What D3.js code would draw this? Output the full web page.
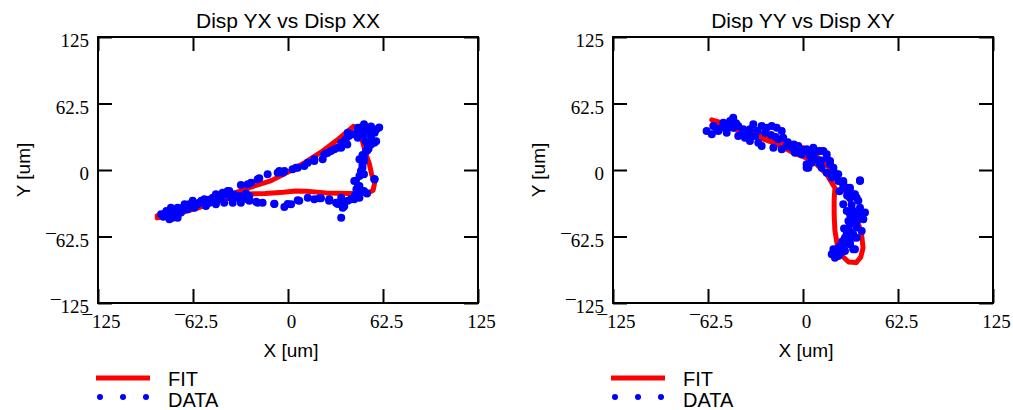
<!DOCTYPE html>
<html>
<head>
<meta charset="utf-8">
<script src="https://cdn.jsdelivr.net/npm/d3@7"></script>
<style>
  body { margin: 0; background: #fff; }
  svg { display: block; }
</style>
</head>
<body>
<div id="chart"></div>
<script>
// tick values shared by both panels
var tickVals = [-125, -62.5, 0, 62.5, 125]

// Disp YX vs Disp XX
var fitYX = [[-86,-43],[-75,-39],[-62,-34],[-50,-29],[-40,-24],[-31,-19.5],[-22,-15],[-11,-10],[0,-2],[11,7],
  [22,17],[33,29],[39,36],[43,41],[46,38],[49,27],[51,16],[53.5,6],[55,-4],[57,-12],[56,-19],[52,-22],[40,-22],
  [25,-21.5],[12,-20],[5,-19.8],[-3,-21],[-15,-22],[-28,-22.5],[-34,-24],[-45,-29],[-58,-35],[-70,-40],[-80,-44],
  [-86,-45],[-86,-43]]
var dataYX = [[-13.4,-4],[-5.7,-1],[-3.5,-2.5],[3,0.6],[6.4,2],[10.7,3.8],[13,6.9],[17.3,8.5],[22.8,10],[26,16],
  [30.5,19.5],[35,21],[39,24],[40,32],[37,27],[43.6,33.5],[48,40],[50,43],[54.6,41],[60,40],[57,35],[58,27],
  [54.6,24],[52,18],[50,11.6],[49,5],[48,-1],[47,-5.6],[44.7,-10],[46,-15],[48,-20],[57,-8.8],[47,-26],[41.4,-27.5],
  [35,-26],[32.7,-32],[37,-34],[27,-29],[20.6,-26.6],[13,-26],[6.4,-28.5],[-0.2,-32],[-2.4,-34.8],[-9,-31.7],
  [-16.7,-30.7],[-21,-29.8],[-25.5,-29],[-25.5,-24.4],[-27.6,-22],[35,-44.8],[-36.4,-30.7],[-33,-26],[-39.7,-19.7],
  [-43,-21.3],[-47.4,-22.9],[-31,-14],[-24.3,-11.9],[-18.9,-7.8],[-26.5,-13.5],
  [-83.5,-41.7],[-80,-38.5],[-78,-46.4],[-77,-35.4],[-74.8,-41.7],[-72.6,-35.4],[-70.4,-40],[-68,-32.3],[-66,-37],
  [-62.7,-29],[-61.6,-35.4],[-58.4,-30.7],[-55,-27.6],[-54,-33.8],[-49.5,-26],[-47.4,-32.3],[-44,-24.4],[-42,-30.7],
  [-38.6,-19.7],[-35.3,-23],[-32,-24.4],[-31,-30.7],[-37.5,-26],[-46.3,-27.6],[-51.8,-30.7],[-59.4,-32.3],[-65,-32.3],
  [-69.3,-35.4],[-73.7,-38.5],[-75.9,-44.8],[-79,-43.2],[-72.6,-44.8],[-20,-30.7],[-9,-32],[-20,-8.8],
  [32.7,21],[35,25.7],[38,28.9],[39.3,35],[42.5,33.5],[45.9,39.8],[45.9,30.4],[50,33.5],[54.6,30.4],[56.8,25.7],
  [52.4,24],[51.3,17.9],[50,8.5],[49,2.2],[43.6,-10.3],[47,-15],[50,-19.7],[43.6,-27.6],[39.3,-29],[36,-32.3],
  [36,-35.4],[31.6,-30.7],[27.2,-27.6],[21.7,-26.6],[17.3,-27.6],[7.4,-29],[2,-32.3],[56.8,-8.8],[23.9,14.7],
  [17.3,10],[5.3,2.2],[-2.4,-1],[-6.8,-2.5],[28.3,17.9],
  [52,37],[55,35],[58,38],[48,36],[51,27],[53,20],[49,14],[47,10],[50,-4],[45,-18],[52,-22],[44,-24],
  [-81,-41],[-76,-39],[-71,-37],[-67,-34],[-63,-33],[-57,-29],[-52,-28],[-40,-23],[-28,-27],[-77,-42],[-82,-44]]

// Disp YY vs Disp XY
var fitYY = [[-60,47],[-55,45],[-45,41],[-35,36.5],[-25,31],[-15,26],[-6,22.5],[0,21],[8,14],[15,6],[20,-3],
  [26,-15],[31,-29],[35,-44],[38.5,-60],[39.5,-73],[38,-82],[35,-87],[30,-86.5],[26,-81],[22.5,-70],[21,-57],
  [20.5,-42],[20.5,-28],[21,-17],[15.6,-4],[7,8],[1,12],[-6,16],[-14,22],[-22,27],[-32,32],[-42,37],[-52,41],
  [-58,44.5],[-60,47]]
var dataYY = [[-63.4,36.7],[-60,33.5],[-59,41.4],[-55.7,36.7],[-52.4,44.5],[-50.2,35],[-48,46],[-45.9,49],
  [-45.9,39.8],[-42.6,41.4],[-42.6,32],[-39.3,38.2],[-38.2,30.4],[-34.9,38.2],[-32.7,43],[-34.9,27.3],[-31.6,32],
  [-29.4,25.7],[-27.2,22.6],[-27.2,41.4],[-23.9,39.8],[-20.6,41.4],[-17.3,39.8],[-14,36.7],[-13,30.4],[-16.3,28.9],
  [-19.5,21],[-14,19.5],[-10.7,22.6],[-7.4,21],[-5.3,16.3],[-3.1,22.6],[-0.9,14.7],[2.4,17.9],[4.6,13.2],[3.5,2.2],
  [5.7,6.9],[3.5,3.8],[13.4,17.9],[15.6,11.6],[17.8,5.3],[20,-1],[22.2,-4],[23.2,-10.3],[26.5,-11.9],[28.8,-16.6],
  [30.9,-19.7],[33,-22.9],[37.5,-10.3],[35.3,-26],[37.5,-35.4],[36.4,-41.7],[39.7,-46.3],[33,-44.8],[30.9,-51],
  [35.3,-54],[28.8,-60.4],[33,-63.6],[30.9,-69.8],[26.5,-71.4],[22.2,-74.5],[18.9,-79.2],[24.3,-79.2],[33,-74.5],
  [28.8,-38.5],[26.5,-32.3],[9,17.9],[5.7,14.7],[2.4,2.2],[12.3,2.2],[15.6,-2.5],[35.3,-63.6],[38.6,-57.3],
  [2.4,19.5],[6.8,21],[11.2,17.9],[15.6,14.7],[17.8,8.5],[20,2.2],[23.2,-4],[26.5,-10.3],[37.5,-9.7],[30.9,-16.6],
  [34.2,-22.9],[36.4,-29],[40.8,-40],[33,-38.5],[29.9,-48],[35.3,-48],[28.8,-57.3],[33,-60.4],[27.6,-63.6],
  [30.9,-69.8],[24.3,-71.4],[20,-74.5],[23.2,-80.8],[27.6,-76.1],[34.2,-74.5],[21,-82.4],[6.8,14.7],[11.2,5.3],
  [2.4,5.3],[26.5,-16.6],[30.9,-26],
  [-57,39],[-53,40],[-49,41],[-44,44],[-40,35],[-36,33],[-30,37],[-25,35],[-21,33],[-18,31],[-10,26],[-6,24],
  [-1,19],[8,10],[12,9],[19,-7],[24,-20],[29,-24],[32,-33],[31,-42],[27,-55],[31,-58],[29,-66],[26,-67],[25,-75],[20,-78]]

var W = 1013, H = 410
var plotW = 380, plotH = 266, top0 = 37

var svg = d3.select("#chart").append("svg")
  .attr("width", W)
  .attr("height", H)

svg.append("rect").attr("width", W).attr("height", H).attr("fill", "#fff")

function fmt(d) {
  return d < 0 ? "\u00AF" + (-d) : "" + d
}

function drawPanel(left, title, fit, data) {
  var g = svg.append("g").attr("transform", "translate(" + left + "," + top0 + ")")

  var x = d3.scaleLinear().domain([-125, 125]).range([0, plotW])
  var y = d3.scaleLinear().domain([-125, 125]).range([plotH, 0])

  // axes, ticks point inward
  var axB = g.append("g").attr("transform", "translate(0," + plotH + ")")
    .call(d3.axisBottom(x).tickValues(tickVals).tickSize(-14).tickSizeOuter(0).tickPadding(12).tickFormat(fmt))
  var axL = g.append("g")
    .call(d3.axisLeft(y).tickValues(tickVals).tickSize(-14).tickSizeOuter(0).tickPadding(9).tickFormat(fmt))
  var axT = g.append("g")
    .call(d3.axisTop(x).tickValues(tickVals).tickSize(-14).tickSizeOuter(0).tickFormat(""))
  var axR = g.append("g").attr("transform", "translate(" + plotW + ",0)")
    .call(d3.axisRight(y).tickValues(tickVals).tickSize(-14).tickSizeOuter(0).tickFormat(""))

  ;[axB, axL, axT, axR].forEach(function(a) {
    a.select(".domain").remove()
    a.selectAll(".tick line").attr("stroke", "#000").attr("stroke-width", 2)
    a.selectAll("text").attr("font-family", "'Liberation Serif', 'Times New Roman', serif")
      .attr("font-size", 19).attr("fill", "#000")
  })
  axB.selectAll("text").attr("dx", 3).attr("dy", "0.66em")
  axL.selectAll("text").attr("dy", "0.52em")

  // frame
  g.append("rect")
    .attr("width", plotW).attr("height", plotH)
    .attr("fill", "none").attr("stroke", "#000").attr("stroke-width", 2)

  // FIT loop
  var line = d3.line()
    .x(function(d) { return x(d[0]) })
    .y(function(d) { return y(d[1]) })
  g.append("path")
    .datum(fit)
    .attr("d", line)
    .attr("fill", "none")
    .attr("stroke", "#ff0000")
    .attr("stroke-width", 5)
    .attr("stroke-linejoin", "round")
    .attr("stroke-linecap", "round")

  // DATA points
  g.selectAll(".pt")
    .data(data)
    .enter()
    .append("circle")
    .attr("cx", function(d) { return x(d[0]) })
    .attr("cy", function(d) { return y(d[1]) })
    .attr("r", 4)
    .attr("fill", "#0000ff")

  var sans = "'Liberation Sans', Arial, sans-serif"

  g.append("text")
    .attr("x", plotW / 2).attr("y", -9)
    .attr("text-anchor", "middle")
    .attr("font-family", sans).attr("font-size", 21)
    .text(title)

  g.append("text")
    .attr("x", plotW / 2 + 3).attr("y", plotH + 54)
    .attr("text-anchor", "middle")
    .attr("font-family", sans).attr("font-size", 19)
    .text("X [um]")

  g.append("text")
    .attr("transform", "translate(-68," + (plotH / 2) + ") rotate(-90)")
    .attr("text-anchor", "middle")
    .attr("font-family", sans).attr("font-size", 19)
    .text("Y [um]")

  // legend
  var lg = g.append("g").attr("transform", "translate(-2," + (plotH + 75) + ")")
  lg.append("line")
    .attr("x1", 0).attr("x2", 54).attr("y1", 0).attr("y2", 0)
    .attr("stroke", "#ff0000").attr("stroke-width", 5)
  lg.append("text")
    .attr("x", 72).attr("y", 8)
    .attr("font-family", sans).attr("font-size", 20)
    .text("FIT")
  lg.selectAll(".ld")
    .data([4, 27, 50])
    .enter()
    .append("circle")
    .attr("cx", function(d) { return d })
    .attr("cy", 19)
    .attr("r", 3)
    .attr("fill", "#0000ff")
  lg.append("text")
    .attr("x", 72).attr("y", 29)
    .attr("font-family", sans).attr("font-size", 20)
    .text("DATA")
}

drawPanel(98, "Disp YX vs Disp XX", fitYX, dataYX)
drawPanel(613, "Disp YY vs Disp XY", fitYY, dataYY)
</script>
</body>
</html>
